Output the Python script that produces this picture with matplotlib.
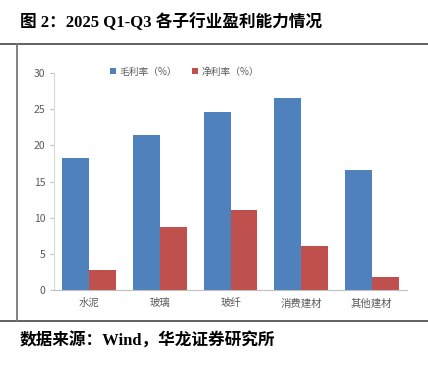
import numpy as np
import matplotlib.pyplot as plt
from matplotlib.lines import Line2D

plt.rcParams['font.family'] = ['Noto Sans CJK SC', 'DejaVu Sans']

categories = ["水泥", "玻璃", "玻纤", "消费建材", "其他建材"]
gross_margin = [18.2, 21.4, 24.6, 26.5, 16.6]
net_margin = [2.8, 8.7, 11.1, 6.1, 1.8]
series_names = ["毛利率（%）", "净利率（%）"]

blue = "#4F81BD"
red = "#C0504D"

fig = plt.figure(figsize=(4.28, 3.68), dpi=100)

# 外框线
fig.add_artist(Line2D([0, 1], [1 - 44 / 368] * 2, color="#555555", lw=1.3))
fig.add_artist(Line2D([0, 1], [1 - 321 / 368] * 2, color="#555555", lw=1.3))
fig.add_artist(Line2D([16.5 / 428] * 2, [1 - 44 / 368, 1 - 321 / 368], color="#777777", lw=1.3))

fig.text(20 / 428, 1 - 22 / 368, "图 2：2025 Q1-Q3 各子行业盈利能力情况",
         family=['Liberation Serif', 'Noto Sans CJK SC'], fontweight="bold",
         fontsize=12, va="center", ha="left")
fig.text(20 / 428, 1 - 341 / 368, "数据来源：Wind，华龙证券研究所",
         family=['Liberation Serif', 'Noto Sans CJK SC'], fontweight="bold",
         fontsize=12, va="center", ha="left")

ax = fig.add_axes([54 / 428, 1 - 290 / 368, (407 - 54) / 428, (290 - 73) / 368])
x = np.arange(len(categories))
w = 0.38
ax.bar(x - w / 2, gross_margin, w, color=blue, label=series_names[0])
ax.bar(x + w / 2, net_margin, w, color=red, label=series_names[1])

ax.set_xlim(-0.5, len(categories) - 0.5)
ax.set_ylim(0, 30)
ax.set_yticks(range(0, 31, 5))
ax.set_xticks(x)
ax.set_xticklabels(categories)
ax.tick_params(axis="y", labelsize=7.5, colors="#595959", length=3, width=0.8, pad=3)
ax.tick_params(axis="y", color="#BFBFBF")
ax.tick_params(axis="x", labelsize=7.5, colors="#595959", length=0, pad=6)
for s in ["top", "right"]:
    ax.spines[s].set_visible(False)
ax.spines["left"].set_color("#D9D9D9")
ax.spines["bottom"].set_color("#BFBFBF")

leg = ax.legend(loc="upper center", bbox_to_anchor=(0.37, 1.07), ncol=2, frameon=False,
                fontsize=7, handlelength=0.6, handleheight=0.6, handletextpad=0.3,
                columnspacing=1.6)
for t in leg.get_texts():
    t.set_color("#595959")

fig.savefig("out.png", dpi=100)
